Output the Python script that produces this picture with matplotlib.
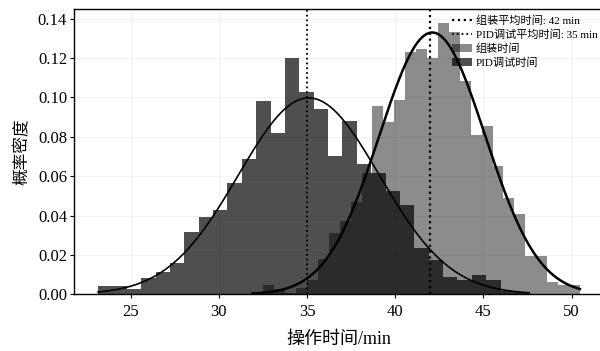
import numpy as np
import matplotlib
matplotlib.use("Agg")
import matplotlib.pyplot as plt

plt.rcParams['font.family'] = ['Liberation Serif', 'Noto Sans CJK SC']
plt.rcParams['axes.unicode_minus'] = False

# Histogram densities (30 equal-width bins per series)
asm_range = (31.9, 50.47)
asm_density = [0.0008, 0.0047, 0.0025, 0.0008, 0.0030, 0.0073, 0.0178, 0.0310,
               0.0373, 0.0471, 0.0616, 0.0955, 0.0873, 0.0989, 0.1230, 0.1248,
               0.1200, 0.1380, 0.1330, 0.1085, 0.0810, 0.0857, 0.0650, 0.0487,
               0.0410, 0.0193, 0.0193, 0.0061, 0.0047, 0.0047]

pid_range = (23.15, 47.6)
pid_density = [0.0044, 0.0044, 0.0025, 0.0081, 0.0112, 0.0158, 0.0319, 0.0395,
               0.0429, 0.0565, 0.0689, 0.0980, 0.0820, 0.1200, 0.1030, 0.0943,
               0.0700, 0.0878, 0.0663, 0.0616, 0.0527, 0.0454, 0.0234, 0.0175,
               0.0086, 0.0073, 0.0098, 0.0073, 0.0018, 0.0010]

# Fitted normal parameters
asm_mu, asm_sigma = 42.1, 3.0
pid_mu, pid_sigma = 35.1, 4.0

# Mean markers
asm_mean_line = 42
pid_mean_line = 35

labels = ['组装平均时间: 42 min', 'PID调试平均时间: 35 min', '组装时间', 'PID调试时间']
x_ticks = [25, 30, 35, 40, 45, 50]
y_ticks = [0.00, 0.02, 0.04, 0.06, 0.08, 0.10, 0.12, 0.14]


def normal_pdf(x, mu, sigma):
    return np.exp(-0.5 * ((x - mu) / sigma) ** 2) / (sigma * np.sqrt(2 * np.pi))


def draw_hist(ax, rng, dens, **kw):
    edges = np.linspace(rng[0], rng[1], len(dens) + 1)
    centers = 0.5 * (edges[:-1] + edges[1:])
    ax.hist(centers, bins=edges, weights=dens, **kw)


fig = plt.figure(figsize=(6.0, 3.51), dpi=100)
ax = fig.add_axes([0.1233, 0.1615, 0.8833, 0.8128])

ax.grid(True, color='#f3f3f3', lw=0.8)
ax.set_axisbelow(True)

draw_hist(ax, asm_range, asm_density, color='black', alpha=0.45, label=labels[2])
draw_hist(ax, pid_range, pid_density, color='black', alpha=0.69, label=labels[3])

xa = np.linspace(asm_range[0], asm_range[1], 300)
ax.plot(xa, normal_pdf(xa, asm_mu, asm_sigma), color='black', lw=1.8)
xp = np.linspace(pid_range[0], pid_range[1], 300)
ax.plot(xp, normal_pdf(xp, pid_mu, pid_sigma), color='black', lw=1.2)

ax.axvline(asm_mean_line, color='black', ls=':', lw=1.6, label=labels[0])
ax.axvline(pid_mean_line, color='black', ls=':', lw=1.3, label=labels[1])

ax.set_xticks(x_ticks)
ax.set_yticks(y_ticks)
ax.set_yticklabels([f'{v:.2f}' for v in y_ticks])
ax.tick_params(labelsize=12, length=3)
ax.tick_params(axis='x', pad=4)
ax.tick_params(axis='y', pad=2)

ax.set_xlabel('操作时间/min', fontsize=13, labelpad=8)
ax.set_ylabel('概率密度', fontsize=12, labelpad=5)

for s in ax.spines.values():
    s.set_color('black')
    s.set_linewidth(1.0)

handles, lbls = ax.get_legend_handles_labels()
order = [lbls.index(l) for l in labels]
ax.legend([handles[i] for i in order], [lbls[i] for i in order],
          loc='upper right', bbox_to_anchor=(1.0, 1.0), frameon=False,
          fontsize=8, handlelength=1.8, handletextpad=0.3,
          labelspacing=0.3, borderaxespad=0.4, borderpad=0.2)

fig.savefig('out.png', dpi=100)
